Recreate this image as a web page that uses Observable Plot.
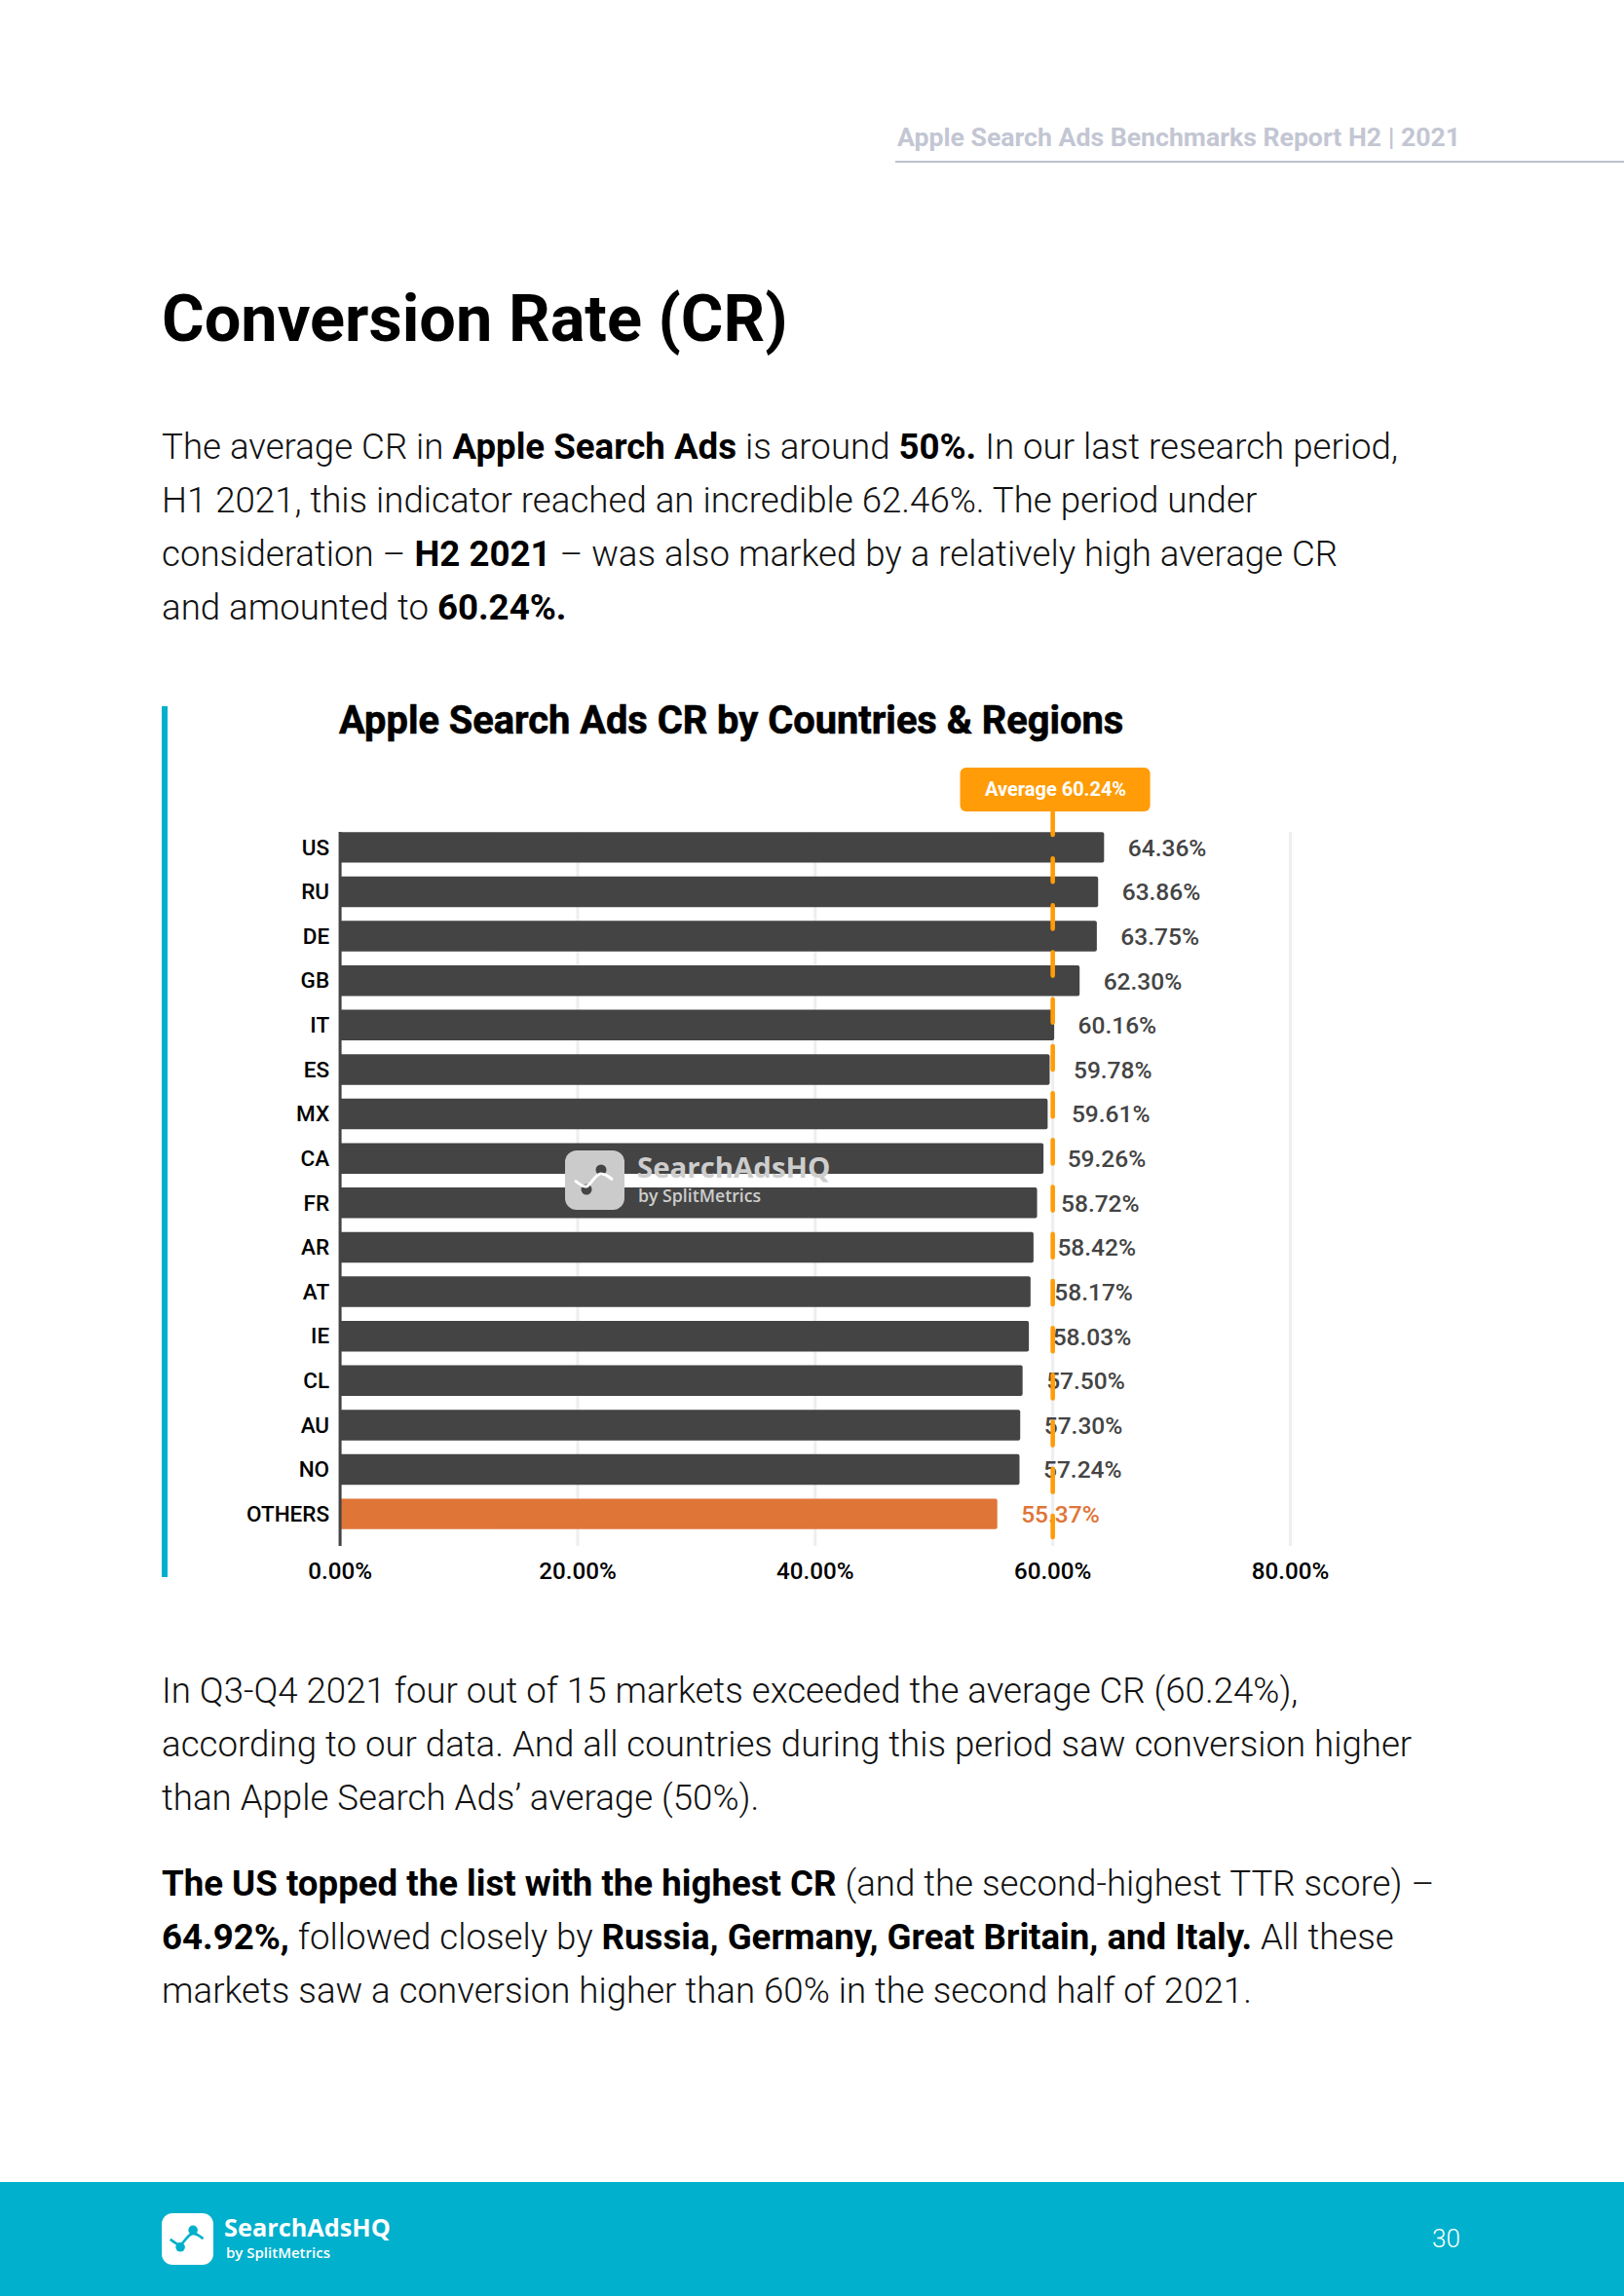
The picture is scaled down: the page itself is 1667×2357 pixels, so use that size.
<!DOCTYPE html>
<html><head><meta charset="utf-8">
<script src="https://cdn.jsdelivr.net/npm/d3@7"></script>
<script src="https://cdn.jsdelivr.net/npm/@observablehq/plot@0.6"></script>
<style>
html,body{margin:0;padding:0;background:#fff;font-family:Roboto,sans-serif}
#page{position:relative;width:1667px;height:2357px;overflow:hidden}
.t{position:absolute;white-space:nowrap}
.p{position:absolute;left:166px;font-size:36.65px;font-weight:300;line-height:55px;color:#111;white-space:nowrap}
.p b{font-weight:700;color:#000}
#chart{position:absolute;left:0;top:700px}
#chart svg{display:block;overflow:visible}
#chart g[aria-label="x-axis tick label"] text,#chart g[aria-label="y-axis tick label"] text{-webkit-text-stroke:.4px #000}
.brand{font-family:"Open Sans","Noto Sans",sans-serif;font-weight:700}
</style></head><body>
<div id="page">
  <div class="t" style="left:921px;top:125px;font-size:26.65px;font-weight:700;color:#c3c6d3;line-height:32px">Apple Search Ads Benchmarks Report H2 | 2021</div>
  <div class="t" style="left:919px;right:0;top:165px;height:2px;background:#bfc1cc"></div>
  <div class="t" style="left:166px;top:286px;font-size:66.7px;font-weight:700;color:#000;line-height:82px">Conversion Rate (CR)</div>
  <div class="p" style="top:430.5px">The average CR in <b>Apple Search Ads</b> is around <b>50%.</b> In our last research period,<br>H1 2021, this indicator reached an incredible 62.46%. The period under<br>consideration – <b>H2 2021</b> – was also marked by a relatively high average CR<br>and amounted to <b>60.24%.</b></div>
  <div class="t" style="left:166px;top:725px;width:6px;height:894px;background:#00b0cc"></div>
  <div class="t" style="left:348px;top:716px;font-size:39.8px;font-weight:700;color:#000;line-height:48px;-webkit-text-stroke:.6px #000">Apple Search Ads CR by Countries &amp; Regions</div>
  <div id="chart"></div>
  <svg class="t" style="left:580px;top:1181px" width="61" height="61" viewBox="0 0 61 61"><rect width="61" height="61" rx="12" fill="#cbcbcb"/><circle cx="22" cy="40" r="5.5" fill="#444"/><circle cx="37" cy="20" r="5.5" fill="#444"/><path d="M10 31C15 34 18 38 22 37S31 24 37 24S44 27 49 30" fill="none" stroke="#fff" stroke-width="3"/></svg>
  <div class="t brand" style="left:654px;top:1178px;font-size:29.4px;line-height:40px;color:#cdcdcd">SearchAdsHQ</div>
  <div class="t brand" style="left:655px;top:1215px;font-size:17.7px;line-height:24px;font-weight:600;color:#cdcdcd">by SplitMetrics</div>
  <div class="p" style="top:1707.5px">In Q3-Q4 2021 four out of 15 markets exceeded the average CR (60.24%),<br>according to our data. And all countries during this period saw conversion higher<br>than Apple Search Ads’ average (50%).</div>
  <div class="p" style="top:1906px"><b>The US topped the list with the highest CR</b> (and the second-highest TTR score) –<br><b>64.92%,</b> followed closely by <b>Russia, Germany, Great Britain, and Italy.</b> All these<br>markets saw a conversion higher than 60% in the second half of 2021.</div>
  <div class="t" style="left:0;right:0;top:2240px;height:117px;background:#00b0cc"></div>
  <svg class="t" style="left:166px;top:2272px" width="53" height="53" viewBox="0 0 61 61"><rect width="61" height="61" rx="13" fill="#fff"/><circle cx="22" cy="40" r="5.5" fill="#00b0cc"/><circle cx="37" cy="20" r="5.5" fill="#00b0cc"/><path d="M10 31C15 34 18 38 22 37S31 24 37 24S44 27 49 30" fill="none" stroke="#00b0cc" stroke-width="3"/></svg>
  <div class="t brand" style="left:230px;top:2269px;font-size:25.3px;line-height:34px;color:#fff">SearchAdsHQ</div>
  <div class="t brand" style="left:232px;top:2301px;font-size:15px;line-height:22px;font-weight:600;color:#fff">by SplitMetrics</div>
  <div class="t" style="left:1470px;top:2282px;font-size:26px;font-weight:300;line-height:32px;color:#fff">30</div>
</div>
<script>
const countries = ["US","RU","DE","GB","IT","ES","MX","CA","FR","AR","AT","IE","CL","AU","NO","OTHERS"];
const rates = [64.36,63.86,63.75,62.30,60.16,59.78,59.61,59.26,58.72,58.42,58.17,58.03,57.50,57.30,57.24,55.37];
const xTicks = [0,20,40,60,80];
const averageValue = 60.24;
const averageLineAt = 60;
const averageLabel = "Average 60.24%";
const highlighted = "OTHERS";

const rows = countries.map((c,i)=>({country:c, rate:rates[i]}));
const pct = v => v.toFixed(2)+"%";
const dark = "#444444", accent = "#e07538", amber = "#ff9c07";

const plot = Plot.plot({
  width:1667, height:950,
  marginLeft:348.6, marginRight:343, marginTop:88, marginBottom:63,
  style:{fontFamily:"Roboto, sans-serif", background:"transparent", overflow:"visible"},
  x:{domain:[0,80], label:null},
  y:{domain:countries, range:[140,884], padding:0.31, round:false, label:null},
  marks:[
    Plot.ruleX(xTicks,{x:d=>d, stroke:"#eeeef0", strokeWidth:3, insetTop:66}),
    Plot.barX(rows,{x:"rate", y:"country", rx:2, fill:d=>d.country===highlighted?accent:dark}),
    Plot.ruleX([0],{x:d=>d, stroke:dark, strokeWidth:3, insetTop:66}),
    Plot.text(rows,{x:"rate", y:"country", text:d=>pct(d.rate), textAnchor:"start", dx:24, dy:0.5,
      fontSize:24.5, fontWeight:500, fill:d=>d.country===highlighted?accent:dark}),
    Plot.ruleX([averageLineAt],{x:d=>d, stroke:amber, strokeWidth:4.6, strokeLinecap:"round",
      strokeDasharray:"24,24.2", insetTop:45, insetBottom:9}),
    Plot.rect([averageValue],{x1:d=>d-8, x2:d=>d+8, fill:amber, rx:6, insetBottom:754}),
    Plot.text([averageValue],{x:d=>d, text:()=>averageLabel, frameAnchor:"top", dy:14, lineAnchor:"top",
      fill:"#fff", fontSize:20, fontWeight:700}),
    Plot.axisX({ticks:xTicks, tickSize:0, tickPadding:16, tickFormat:pct, label:null, anchor:"bottom",
      fontSize:24.2, fontWeight:500, fill:"#000"}),
    Plot.axisY({tickSize:0, tickPadding:11, label:null, anchor:"left", fontSize:22.5, fontWeight:500, fill:"#000"})
  ]
});
document.getElementById("chart").appendChild(plot);
</script>
</body></html>
